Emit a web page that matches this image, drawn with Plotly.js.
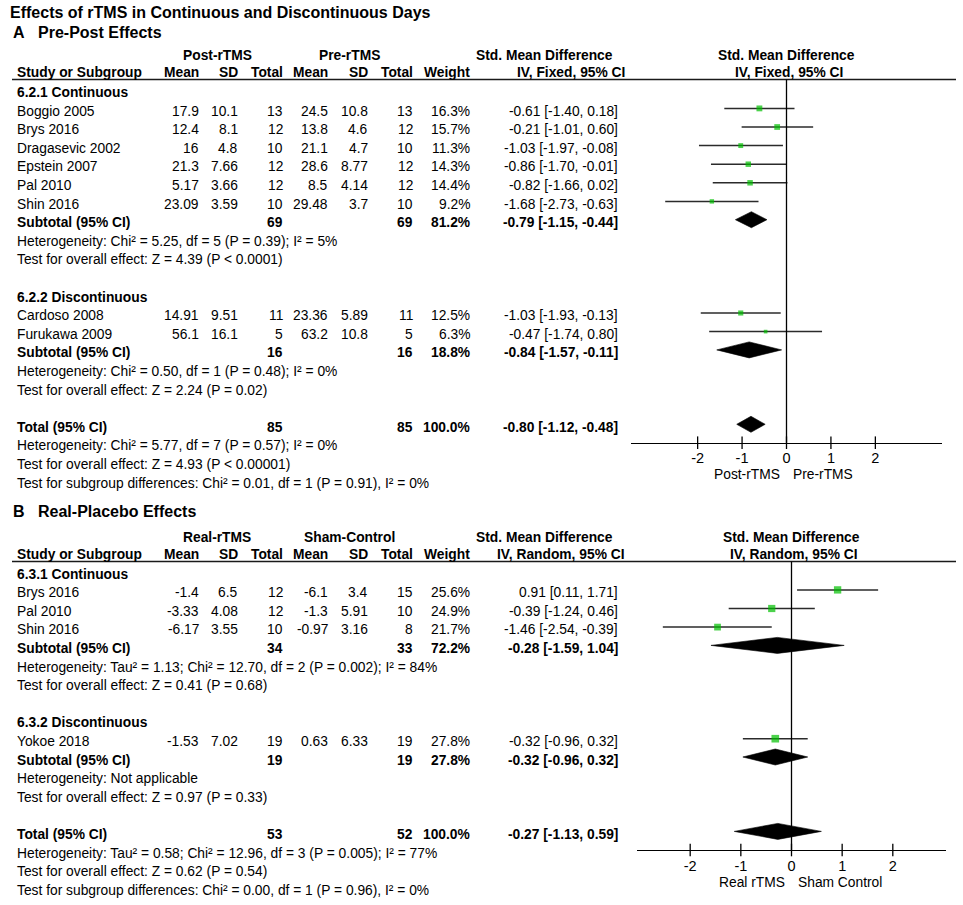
<!DOCTYPE html>
<html><head><meta charset="utf-8">
<script src="https://cdn.plot.ly/plotly-3.0.1.min.js"></script>
<style>html,body{margin:0;padding:0;background:#fff}#chart{width:963px;height:905px}</style>
</head><body><div id="chart"></div>
<script>
// ---------------- DATA ----------------
const chartTitle = "Effects of rTMS in Continuous and Discontinuous Days";
const panelLetters = ["A", "B"];
const panelTitles = ["Pre-Post Effects", "Real-Placebo Effects"];
const columnHeaders = ["Mean", "SD", "Total", "Mean", "SD", "Total", "Weight"];
const tickValues = [-2, -1, 0, 1, 2];
const tickLabels = ["-2", "-1", "0", "1", "2"];

// Panel A : Pre-Post effects
const groupLabelsA = ["6.2.1 Continuous", "6.2.2 Discontinuous"];
const studyA = ["Boggio 2005", "Brys 2016", "Dragasevic 2002", "Epstein 2007", "Pal 2010", "Shin 2016", "Cardoso 2008", "Furukawa 2009"];
const groupA = [0, 0, 0, 0, 0, 0, 1, 1];
const meanExpA = ["17.9", "12.4", "16", "21.3", "5.17", "23.09", "14.91", "56.1"];
const sdExpA = ["10.1", "8.1", "4.8", "7.66", "3.66", "3.59", "9.51", "16.1"];
const nExpA = [13, 12, 10, 12, 12, 10, 11, 5];
const meanCtlA = ["24.5", "13.8", "21.1", "28.6", "8.5", "29.48", "23.36", "63.2"];
const sdCtlA = ["10.8", "4.6", "4.7", "8.77", "4.14", "3.7", "5.89", "10.8"];
const nCtlA = [13, 12, 10, 12, 12, 10, 11, 5];
const weightA = [16.3, 15.7, 11.3, 14.3, 14.4, 9.2, 12.5, 6.3];
const smdA = [-0.61, -0.21, -1.03, -0.86, -0.82, -1.68, -1.03, -0.47];
const loA = [-1.40, -1.01, -1.97, -1.70, -1.66, -2.73, -1.93, -1.74];
const hiA = [0.18, 0.60, -0.08, -0.01, 0.02, -0.63, -0.13, 0.80];
// subgroup 1, subgroup 2, total
const sumNExpA = [69, 16, 85];
const sumNCtlA = [69, 16, 85];
const sumWeightA = [81.2, 18.8, 100.0];
const sumSmdA = [-0.79, -0.84, -0.80];
const sumLoA = [-1.15, -1.57, -1.12];
const sumHiA = [-0.44, -0.11, -0.48];
const hetA = ["Heterogeneity: Chi² = 5.25, df = 5 (P = 0.39); I² = 5%",
              "Heterogeneity: Chi² = 0.50, df = 1 (P = 0.48); I² = 0%",
              "Heterogeneity: Chi² = 5.77, df = 7 (P = 0.57); I² = 0%"];
const testA = ["Test for overall effect: Z = 4.39 (P < 0.0001)",
               "Test for overall effect: Z = 2.24 (P = 0.02)",
               "Test for overall effect: Z = 4.93 (P < 0.00001)"];
const subDiffA = "Test for subgroup differences: Chi² = 0.01, df = 1 (P = 0.91), I² = 0%";
const headA = ["Post-rTMS", "Pre-rTMS", "IV, Fixed, 95% CI"];
const favoursA = ["Post-rTMS", "Pre-rTMS"];

// Panel B : Real-Placebo effects
const groupLabelsB = ["6.3.1 Continuous", "6.3.2 Discontinuous"];
const studyB = ["Brys 2016", "Pal 2010", "Shin 2016", "Yokoe 2018"];
const groupB = [0, 0, 0, 1];
const meanExpB = ["-1.4", "-3.33", "-6.17", "-1.53"];
const sdExpB = ["6.5", "4.08", "3.55", "7.02"];
const nExpB = [12, 12, 10, 19];
const meanCtlB = ["-6.1", "-1.3", "-0.97", "0.63"];
const sdCtlB = ["3.4", "5.91", "3.16", "6.33"];
const nCtlB = [15, 10, 8, 19];
const weightB = [25.6, 24.9, 21.7, 27.8];
const smdB = [0.91, -0.39, -1.46, -0.32];
const loB = [0.11, -1.24, -2.54, -0.96];
const hiB = [1.71, 0.46, -0.39, 0.32];
const sumNExpB = [34, 19, 53];
const sumNCtlB = [33, 19, 52];
const sumWeightB = [72.2, 27.8, 100.0];
const sumSmdB = [-0.28, -0.32, -0.27];
const sumLoB = [-1.59, -0.96, -1.13];
const sumHiB = [1.04, 0.32, 0.59];
const hetB = ["Heterogeneity: Tau² = 1.13; Chi² = 12.70, df = 2 (P = 0.002); I² = 84%",
              "Heterogeneity: Not applicable",
              "Heterogeneity: Tau² = 0.58; Chi² = 12.96, df = 3 (P = 0.005); I² = 77%"];
const testB = ["Test for overall effect: Z = 0.41 (P = 0.68)",
               "Test for overall effect: Z = 0.97 (P = 0.33)",
               "Test for overall effect: Z = 0.62 (P = 0.54)"];
const subDiffB = "Test for subgroup differences: Chi² = 0.00, df = 1 (P = 0.96), I² = 0%";
const headB = ["Real-rTMS", "Sham-Control", "IV, Random, 95% CI"];
const favoursB = ["Real rTMS", "Sham Control"];

// ---------------- LAYOUT / STYLE ----------------
const FONT = "Liberation Sans, Arial, Helvetica, sans-serif";
const FS = 13.8;
const ROW_H = 18.6;
const LABEL_X = 16.7;
const COL_R = [199, 238, 283, 328, 368, 413, 470, 618];
const GREEN = "#00bf00";

const annotations = [];
const shapes = [];
const traces = [];

function txt(x, y, s, o) {
  o = o || {};
  annotations.push({
    x: x, y: y, xref: o.xref || 'x', yref: 'y', text: s, showarrow: false,
    xanchor: o.anchor || 'left', yanchor: 'middle', borderpad: 0, borderwidth: 0,
    xshift: o.xshift || 0,
    font: {family: FONT, size: o.size || FS, color: '#000', weight: o.bold ? 'bold' : 'normal'}
  });
}
const ci = (e, l, h) => e.toFixed(2) + " [" + l.toFixed(2) + ", " + h.toFixed(2) + "]";

function buildPanel(d, g) {
  // titles
  txt(13, g.letterY, panelLetters[g.idx], {bold: true, size: 16});
  txt(37.5, g.letterY, panelTitles[g.idx], {bold: true, size: 16});
  // headers
  txt(217, g.h1, d.head[0], {anchor: 'center', bold: true});
  txt(349, g.h1, d.head[1], {anchor: 'center', bold: true});
  txt(613, g.h1, "Std. Mean Difference", {anchor: 'right', bold: true});
  txt(0, g.h1, "Std. Mean Difference", {anchor: 'center', bold: true, xref: g.xa});
  txt(LABEL_X, g.h2, "Study or Subgroup", {bold: true});
  columnHeaders.forEach((h, k) => txt(COL_R[k], g.h2, h, {anchor: 'right', bold: true}));
  txt(625, g.h2, d.head[2], {anchor: 'right', bold: true});
  txt(0, g.h2, d.head[2], {anchor: 'center', bold: true, xref: g.xa, xshift: 2});
  shapes.push({type: 'line', xref: 'x', yref: 'y', x0: 12, x1: 956, y0: g.line, y1: g.line,
               line: {color: '#1a1a1a', width: 1.3}});

  // rows
  const rows = [];
  [0, 1].forEach(gr => {
    rows.push({k: 'grp', t: d.groups[gr]});
    d.study.forEach((s, i) => { if (d.group[i] === gr) rows.push({k: 'st', i: i}); });
    rows.push({k: 'sum', s: gr});
    rows.push({k: 'txt', t: d.het[gr]});
    rows.push({k: 'txt', t: d.test[gr]});
    rows.push({k: 'gap'});
  });
  rows.push({k: 'sum', s: 2});
  rows.push({k: 'txt', t: d.het[2]});
  rows.push({k: 'txt', t: d.test[2]});
  rows.push({k: 'txt', t: d.subDiff});

  const ciX = [], ciY = [], sqX = [], sqY = [], sqS = [];
  rows.forEach((r, j) => {
    const y = g.top + j * ROW_H;
    if (r.k === 'grp') txt(LABEL_X, y, r.t, {bold: true});
    else if (r.k === 'txt') txt(LABEL_X, y, r.t);
    else if (r.k === 'st') {
      const i = r.i;
      txt(LABEL_X, y, d.study[i]);
      const vals = [d.mE[i], d.sdE[i], String(d.nE[i]), d.mC[i], d.sdC[i], String(d.nC[i]),
                    d.w[i].toFixed(1) + "%", ci(d.e[i], d.lo[i], d.hi[i])];
      vals.forEach((v, k) => txt(COL_R[k], y, v, {anchor: 'right'}));
      ciX.push(d.lo[i], d.hi[i], null); ciY.push(y - 2.7, y - 2.7, null);
      sqX.push(d.e[i]); sqY.push(y - 2.7); sqS.push(g.sq * Math.sqrt(d.w[i]));
    } else if (r.k === 'sum') {
      const s = r.s;
      txt(LABEL_X, y, s === 2 ? "Total (95% CI)" : "Subtotal (95% CI)", {bold: true});
      txt(COL_R[2], y, String(d.sNE[s]), {anchor: 'right', bold: true});
      txt(COL_R[5], y, String(d.sNC[s]), {anchor: 'right', bold: true});
      txt(COL_R[6], y, d.sW[s].toFixed(1) + "%", {anchor: 'right', bold: true});
      txt(COL_R[7], y, ci(d.sEst[s], d.sLo[s], d.sHi[s]), {anchor: 'right', bold: true});
      const yc = y - 3, h = 8;
      traces.push({type: 'scatter', xaxis: g.xa, yaxis: 'y', mode: 'lines', hoverinfo: 'skip',
        x: [d.sLo[s], d.sEst[s], d.sHi[s], d.sEst[s], d.sLo[s]],
        y: [yc, yc - h, yc, yc + h, yc], fill: 'toself', fillcolor: '#000',
        line: {color: '#000', width: 0.6}});
    }
  });
  traces.push({type: 'scatter', xaxis: g.xa, yaxis: 'y', mode: 'lines', x: ciX, y: ciY,
    hoverinfo: 'skip', line: {color: '#2b2b2b', width: 1.5}});
  traces.push({type: 'scatter', xaxis: g.xa, yaxis: 'y', mode: 'markers', x: sqX, y: sqY,
    hoverinfo: 'skip', marker: {symbol: 'square', size: sqS, color: GREEN, line: {width: 0}}});
  // tick marks crossing the axis line
  traces.push({type: 'scatter', xaxis: g.xa, yaxis: 'y', mode: 'markers', x: tickValues,
    y: tickValues.map(() => g.axisY), hoverinfo: 'skip',
    marker: {symbol: 'line-ns', size: 9, line: {color: '#000', width: 1.3}}});
  // zero line
  shapes.push({type: 'line', xref: g.xa, yref: 'y', x0: 0, x1: 0, y0: g.line, y1: g.axisY,
               line: {color: '#000', width: 1.3}});
  // favours labels
  txt(0, g.favY, d.fav[0], {anchor: 'right', xref: g.xa, xshift: -7, size: 13.8});
  txt(0, g.favY, d.fav[1], {anchor: 'left', xref: g.xa, xshift: 6, size: 13.8});
}

txt(10, 12, chartTitle, {bold: true, size: 16});

buildPanel({groups: groupLabelsA, study: studyA, group: groupA, mE: meanExpA, sdE: sdExpA, nE: nExpA,
  mC: meanCtlA, sdC: sdCtlA, nC: nCtlA, w: weightA, e: smdA, lo: loA, hi: hiA,
  sNE: sumNExpA, sNC: sumNCtlA, sW: sumWeightA, sEst: sumSmdA, sLo: sumLoA, sHi: sumHiA,
  het: hetA, test: testA, subDiff: subDiffA, head: headA, fav: favoursA},
  {idx: 0, xa: 'x2', letterY: 32, h1: 55, h2: 72.5, line: 79.5, top: 92.5, axisY: 442.7, favY: 474, sq: 1.45});

buildPanel({groups: groupLabelsB, study: studyB, group: groupB, mE: meanExpB, sdE: sdExpB, nE: nExpB,
  mC: meanCtlB, sdC: sdCtlB, nC: nCtlB, w: weightB, e: smdB, lo: loB, hi: hiB,
  sNE: sumNExpB, sNC: sumNCtlB, sW: sumWeightB, sEst: sumSmdB, sLo: sumLoB, sHi: sumHiB,
  het: hetB, test: testB, subDiff: subDiffB, head: headB, fav: favoursB},
  {idx: 1, xa: 'x3', letterY: 511, h1: 537, h2: 554.5, line: 561.5, top: 574, axisY: 850, favY: 882, sq: 1.45});

const W = 963, H = 905;
function forestAxis(px0, px1, rng, axisY) {
  return {domain: [px0 / W, px1 / W], range: rng, anchor: 'free', position: 1 - axisY / H,
    showline: true, linecolor: '#000', linewidth: 1.3, ticks: '', tickvals: tickValues,
    ticktext: tickLabels, tickfont: {family: FONT, size: 14.5, color: '#000'},
    ticklabelstandoff: 2,
    showgrid: false, zeroline: false, fixedrange: true};
}

const layout = {
  width: W, height: H, margin: {l: 0, r: 0, t: 0, b: 0}, showlegend: false,
  paper_bgcolor: '#fff', plot_bgcolor: 'rgba(0,0,0,0)',
  xaxis: {domain: [0, 1], range: [0, W], visible: false, fixedrange: true},
  yaxis: {domain: [0, 1], range: [H, 0], visible: false, fixedrange: true},
  xaxis2: forestAxis(631, 942, [-3.5, 3.5], 442.7),
  xaxis3: forestAxis(637, 946, [-3.05, 3.05], 850),
  annotations: annotations, shapes: shapes
};
Plotly.newPlot('chart', traces, layout, {displayModeBar: false, staticPlot: true});
</script></body></html>
